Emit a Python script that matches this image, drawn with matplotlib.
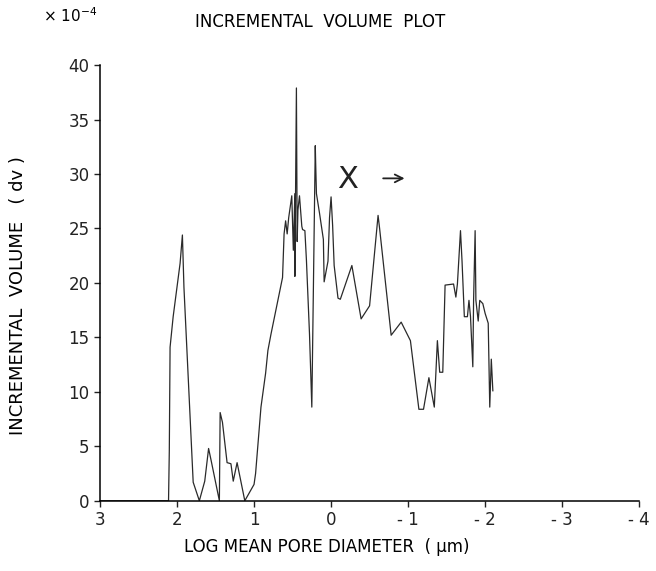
import matplotlib
matplotlib.use("Agg")
import matplotlib.pyplot as plt

# log mean pore diameter (um) and incremental volume (x 1e-4)
log_d = [3.0, 2.11, 2.10, 2.09, 2.05, 1.96, 1.93, 1.91, 1.79, 1.71, 1.64, 1.59, 1.56,
         1.45, 1.44, 1.41, 1.35, 1.30, 1.27, 1.22, 1.12, 1.00, 0.98, 0.91, 0.85,
         0.82, 0.78, 0.63, 0.61, 0.59, 0.57, 0.55, 0.51, 0.49, 0.47, 0.47, 0.45,
         0.44, 0.43, 0.41, 0.38, 0.37, 0.34, 0.32, 0.28, 0.25, 0.205, 0.20, 0.19,
         0.15, 0.10, 0.09, 0.04, 0.02, 0.0, -0.02, -0.04, -0.09, -0.12, -0.27,
         -0.39, -0.50, -0.61, -0.63, -0.78, -0.91, -1.03, -1.14, -1.20, -1.27,
         -1.34, -1.38, -1.41, -1.45, -1.48, -1.59, -1.62, -1.64, -1.68, -1.70,
         -1.73, -1.77, -1.79, -1.81, -1.84, -1.85, -1.87, -1.88, -1.91, -1.93,
         -1.97, -2.00, -2.04, -2.06, -2.08, -2.10]
inc_vol = [0.0, 0.0, 4.6, 14.1, 16.9, 21.8, 24.4, 19.6, 1.7, 0.0, 1.8, 4.8, 3.8,
           0.0, 8.1, 7.2, 3.5, 3.4, 1.8, 3.5, 0.0, 1.5, 2.5, 8.6, 11.7,
           13.8, 15.3, 20.5, 24.5, 25.7, 24.5, 26.0, 28.0, 23.0, 28.2, 20.6, 37.9,
           23.8, 26.7, 28.0, 25.2, 24.9, 24.8, 22.1, 15.3, 8.6, 32.6, 31.0, 28.2,
           26.4, 24.0, 20.1, 22.0, 26.0, 27.9, 25.3, 21.6, 18.6, 18.5, 21.6,
           16.7, 17.9, 26.2, 25.0, 15.2, 16.4, 14.7, 8.4, 8.4, 11.3,
           8.6, 14.7, 11.8, 11.8, 19.8, 19.9, 18.7, 19.9, 24.8, 22.0,
           16.9, 16.9, 18.4, 16.9, 12.3, 18.4, 24.8, 18.4, 16.5, 18.4,
           18.1, 17.2, 16.3, 8.6, 13.0, 10.1]

x_ticks = [3, 2, 1, 0, -1, -2, -3, -4]
x_labels = ["3", "2", "1", "0", "- 1", "- 2", "- 3", "- 4"]

fig = plt.figure(figsize=(6.56, 5.71), dpi=100)
ax = fig.add_axes([0.1524, 0.123, 0.822, 0.763])

ax.plot(log_d, inc_vol, color="#2a2a2a", linewidth=0.9)

ax.set_xlim(3, -4)
ax.set_ylim(0, 40)
ax.set_xticks(x_ticks)
ax.set_xticklabels(x_labels)
ax.set_yticks(range(0, 41, 5))

for s in ["top", "right"]:
    ax.spines[s].set_visible(False)
ax.spines["left"].set_linewidth(1.1)
ax.spines["bottom"].set_linewidth(1.1)
ax.tick_params(direction="out", length=4, width=1, labelsize=12, colors="#222222")

ax.set_xlabel("LOG MEAN PORE DIAMETER  ( μm)", fontsize=12)
ax.xaxis.set_label_coords(0.42, -0.085)
ax.set_ylabel("INCREMENTAL  VOLUME   ( dv )", fontsize=13)
ax.yaxis.set_label_coords(-0.135, 0.47)

fig.text(0.488, 0.962, "INCREMENTAL  VOLUME  PLOT", fontsize=12, ha="center", va="center")
fig.text(0.065, 0.972, r"$\times$ 10$^{-4}$", fontsize=11, ha="left", va="center")

ax.text(-0.21, 29.5, "X", fontsize=22, ha="center", va="center", color="#222222")
ax.annotate("", xy=(-0.99, 29.6), xytext=(-0.64, 29.6),
            arrowprops=dict(arrowstyle="->", lw=1.3, color="#222222", mutation_scale=14))

fig.savefig("out.png", dpi=100)
